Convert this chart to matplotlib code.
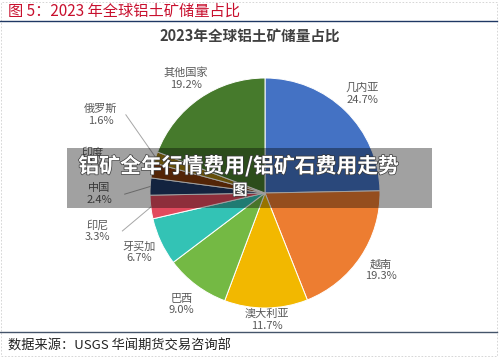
import numpy as np
import matplotlib
matplotlib.use("Agg")
import matplotlib.pyplot as plt
import matplotlib.patheffects as pe
from matplotlib.patches import Rectangle

plt.rcParams["font.family"] = ["Noto Sans CJK SC", "DejaVu Sans"]

# ---- data ----
countries = ["几内亚", "越南", "澳大利亚", "巴西", "牙买加", "印尼", "中国", "印度", "俄罗斯", "其他国家"]
shares = [24.7, 19.3, 11.7, 9.0, 6.7, 3.3, 2.4, 2.1, 1.6, 19.2]
colors = ["#4472C4", "#ED7D31", "#F2B800", "#74B944", "#33C3B5",
          "#E24A5E", "#1F3864", "#843C0C", "#A07E10", "#467A2C"]

# label placement (pie radius units); None -> automatic on a ring
label_xy = [None, None, (0.02, -1.10), None, None,
            (-1.46, -0.33), (-1.44, -0.01), (-1.50, 0.30), (-1.43, 0.68), None]
leader = [False, False, False, False, False, True, True, False, True, False]

W, H = 500, 357
fig = plt.figure(figsize=(W / 100, H / 100), dpi=100)
fig.patch.set_facecolor("white")

# frame / header / footer
fig.add_artist(Rectangle((1 / W, 1 / H), 496 / W, 354 / H, transform=fig.transFigure,
                         fill=False, ec="#d0d0d0", lw=0.6, ls=(0, (2, 2))))
fig.text(8 / W, 1 - 11 / H, "图 5：2023 年全球铝土矿储量占比", color="#C8102E",
         fontsize=11, ha="left", va="center")
fig.add_artist(plt.Line2D([0, 497 / W], [1 - 21 / H] * 2, transform=fig.transFigure,
                          color="#1F3864", lw=1.0))
fig.add_artist(plt.Line2D([0, 497 / W], [1 - 332 / H] * 2, transform=fig.transFigure,
                          color="#44546A", lw=1.0))
fig.text(8 / W, 1 - 346 / H, "数据来源：USGS 华闻期货交易咨询部", color="#222222",
         fontsize=9.5, ha="left", va="center")
fig.text(250 / W, 1 - 36 / H, "2023年全球铝土矿储量占比", color="#404040",
         fontsize=10.5, fontweight="bold", ha="center", va="center")

# pie
cx, cy, r = 265, 193, 115
ax = fig.add_axes([(cx - r) / W, (H - cy - r) / H, 2 * r / W, 2 * r / H])
wedges, _ = ax.pie(shares, colors=colors, startangle=90, counterclock=False,
                   wedgeprops=dict(edgecolor="white", linewidth=0.7))
ax.set_xlim(-1, 1)
ax.set_ylim(-1, 1)
ax.set_aspect("equal")
ax.axis("off")

for w, name, val, pos, ld in zip(wedges, countries, shares, label_xy, leader):
    mid = np.deg2rad((w.theta1 + w.theta2) / 2)
    if pos is None:
        pos = (1.21 * np.cos(mid), 1.21 * np.sin(mid))
    ax.text(pos[0], pos[1], f"{name}\n{val:.1f}%", ha="center", va="center",
            fontsize=8, color="#595959", linespacing=1.2, clip_on=False)
    if ld:
        ex, ey = np.cos(mid), np.sin(mid)
        sx = pos[0] + 0.22
        ax.plot([sx, ex], [pos[1], ey], color="#A6A6A6", lw=0.7, clip_on=False)

# overlay banner
fig.add_artist(Rectangle((67 / W, 1 - 208 / H), 365 / W, 60 / H, transform=fig.transFigure,
                         fc="black", alpha=0.37, ec="none"))
stroke = [pe.withStroke(linewidth=1.0, foreground="#3a3a3a")]
fig.text(239 / W, 1 - 166 / H, "铝矿全年行情费用/铝矿石费用走势", color="white",
         fontsize=15, fontweight="bold", ha="center", va="center", path_effects=stroke)
fig.text(240 / W, 1 - 190 / H, "图", color="white",
         fontsize=11, fontweight="bold", ha="center", va="center", path_effects=stroke)

fig.savefig("out.png", dpi=100)
